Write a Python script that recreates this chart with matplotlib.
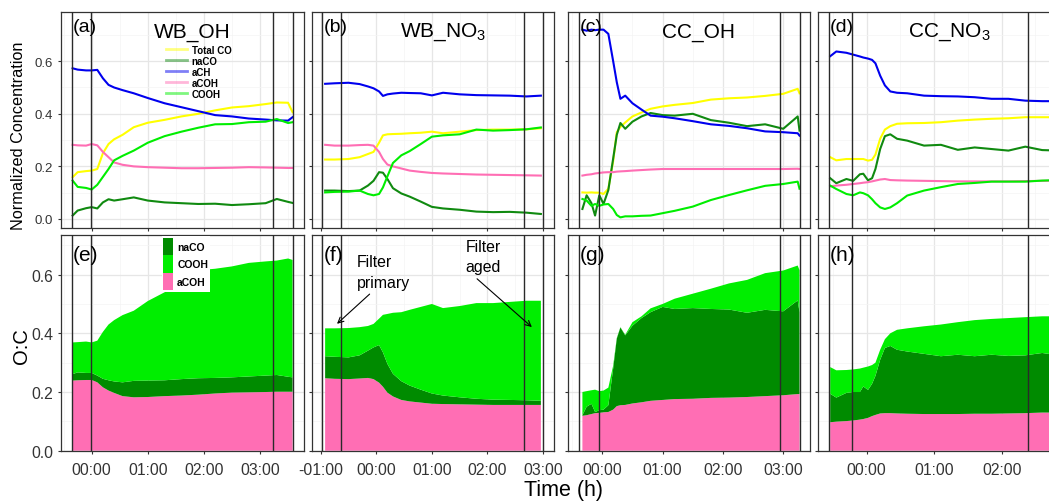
import matplotlib
matplotlib.use("Agg")
import matplotlib.pyplot as plt
from matplotlib.patches import Patch
from matplotlib.lines import Line2D
from matplotlib.ticker import MultipleLocator, FixedLocator

plt.rcParams['font.family'] = ['Liberation Sans', 'DejaVu Sans']
plt.rcParams['mathtext.fontset'] = 'custom'
plt.rcParams['mathtext.rm'] = 'Liberation Sans'
plt.rcParams['mathtext.it'] = 'Liberation Sans:italic'

# ------------------------------------------------------------------ data
series_names = ["Total CO", "naCO", "aCH", "aCOH", "COOH"]
oc_names = ["naCO", "COOH", "aCOH"]

# (a)/(e) WB_OH
t_wb_oh = [-0.34, -0.25, -0.1, 0.0, 0.1, 0.2, 0.3, 0.4, 0.55, 0.75, 1.0, 1.3, 1.6, 1.9, 2.2, 2.5, 2.8, 3.1, 3.3, 3.5, 3.58]
wb_oh_total_co = [0.159, 0.178, 0.182, 0.184, 0.19, 0.25, 0.285, 0.303, 0.32, 0.349, 0.366, 0.377, 0.39, 0.40, 0.413, 0.424, 0.429, 0.437, 0.443, 0.442, 0.406]
wb_oh_naco = [0.013, 0.032, 0.041, 0.045, 0.04, 0.063, 0.075, 0.07, 0.075, 0.082, 0.07, 0.063, 0.06, 0.057, 0.058, 0.053, 0.056, 0.06, 0.076, 0.065, 0.061]
wb_oh_ach = [0.573, 0.568, 0.565, 0.565, 0.567, 0.535, 0.51, 0.50, 0.49, 0.478, 0.46, 0.44, 0.425, 0.41, 0.395, 0.39, 0.382, 0.378, 0.375, 0.374, 0.387]
wb_oh_acoh = [0.282, 0.28, 0.279, 0.285, 0.28, 0.255, 0.235, 0.215, 0.206, 0.2, 0.197, 0.195, 0.193, 0.193, 0.194, 0.195, 0.197, 0.196, 0.195, 0.194, 0.194]
wb_oh_cooh = [0.146, 0.122, 0.118, 0.112, 0.13, 0.16, 0.19, 0.223, 0.24, 0.26, 0.29, 0.315, 0.332, 0.347, 0.36, 0.361, 0.368, 0.37, 0.38, 0.365, 0.368]
wb_oh_oc_acoh = [0.239, 0.24, 0.241, 0.241, 0.233, 0.216, 0.205, 0.197, 0.186, 0.182, 0.183, 0.186, 0.188, 0.191, 0.195, 0.198, 0.199, 0.2, 0.201, 0.201, 0.201]
wb_oh_oc_naco = [0.022, 0.027, 0.024, 0.024, 0.023, 0.029, 0.035, 0.039, 0.047, 0.056, 0.056, 0.054, 0.056, 0.056, 0.053, 0.052, 0.054, 0.056, 0.057, 0.051, 0.049]
wb_oh_oc_cooh = [0.108, 0.103, 0.107, 0.104, 0.119, 0.16, 0.19, 0.209, 0.229, 0.239, 0.271, 0.30, 0.324, 0.368, 0.372, 0.378, 0.387, 0.389, 0.39, 0.403, 0.40]

# (b)/(f) WB_NO3
t_wb_no3 = [-0.92, -0.75, -0.5, -0.3, -0.15, -0.05, 0.05, 0.12, 0.2, 0.3, 0.45, 0.6, 0.8, 1.0, 1.2, 1.5, 1.8, 2.1, 2.4, 2.7, 2.96]
wb_no3_total_co = [0.226, 0.226, 0.228, 0.235, 0.247, 0.255, 0.29, 0.318, 0.322, 0.323, 0.324, 0.326, 0.328, 0.332, 0.326, 0.332, 0.338, 0.34, 0.34, 0.341, 0.345]
wb_no3_naco = [0.108, 0.108, 0.106, 0.108, 0.127, 0.145, 0.178, 0.176, 0.152, 0.117, 0.097, 0.085, 0.066, 0.046, 0.04, 0.035, 0.028, 0.026, 0.027, 0.024, 0.019]
wb_no3_ach = [0.514, 0.516, 0.518, 0.513, 0.504, 0.497, 0.485, 0.468, 0.474, 0.477, 0.48, 0.479, 0.478, 0.47, 0.48, 0.474, 0.471, 0.47, 0.469, 0.466, 0.469]
wb_no3_acoh = [0.282, 0.279, 0.279, 0.281, 0.282, 0.279, 0.255, 0.228, 0.207, 0.2, 0.192, 0.184, 0.179, 0.175, 0.173, 0.171, 0.169, 0.168, 0.167, 0.166, 0.165]
wb_no3_cooh = [0.101, 0.103, 0.104, 0.108, 0.095, 0.09, 0.095, 0.12, 0.162, 0.213, 0.242, 0.258, 0.285, 0.313, 0.318, 0.322, 0.34, 0.336, 0.338, 0.341, 0.348]
wb_no3_oc_acoh = [0.247, 0.245, 0.244, 0.246, 0.248, 0.244, 0.232, 0.218, 0.198, 0.185, 0.173, 0.168, 0.164, 0.16, 0.159, 0.158, 0.157, 0.156, 0.156, 0.156, 0.156]
wb_no3_oc_naco = [0.075, 0.075, 0.074, 0.079, 0.093, 0.108, 0.128, 0.117, 0.098, 0.077, 0.064, 0.054, 0.044, 0.035, 0.029, 0.024, 0.02, 0.018, 0.017, 0.016, 0.014]
wb_no3_oc_cooh = [0.095, 0.097, 0.10, 0.096, 0.084, 0.08, 0.09, 0.128, 0.17, 0.208, 0.235, 0.258, 0.282, 0.305, 0.298, 0.311, 0.326, 0.329, 0.334, 0.339, 0.341]

# (c)/(g) CC_OH
t_cc_oh = [-0.33, -0.26, -0.18, -0.12, -0.05, 0.02, 0.1, 0.18, 0.24, 0.3, 0.38, 0.5, 0.65, 0.8, 1.0, 1.2, 1.5, 1.8, 2.1, 2.4, 2.7, 3.0, 3.24, 3.27]
cc_oh_total_co = [0.101, 0.1, 0.101, 0.1, 0.1, 0.095, 0.115, 0.22, 0.33, 0.35, 0.367, 0.39, 0.405, 0.419, 0.428, 0.434, 0.441, 0.454, 0.459, 0.462, 0.468, 0.476, 0.495, 0.478]
cc_oh_naco = [0.038, 0.09, 0.06, 0.013, 0.09, 0.057, 0.11, 0.23, 0.32, 0.365, 0.343, 0.37, 0.39, 0.403, 0.395, 0.393, 0.4, 0.376, 0.366, 0.353, 0.36, 0.343, 0.39, 0.336]
cc_oh_ach = [0.72, 0.716, 0.72, 0.718, 0.72, 0.72, 0.704, 0.6, 0.52, 0.457, 0.469, 0.44, 0.416, 0.393, 0.389, 0.383, 0.372, 0.36, 0.354, 0.345, 0.333, 0.33, 0.326, 0.317]
cc_oh_acoh = [0.165, 0.168, 0.17, 0.173, 0.175, 0.177, 0.178, 0.178, 0.18, 0.181, 0.182, 0.184, 0.186, 0.188, 0.19, 0.19, 0.19, 0.19, 0.19, 0.19, 0.19, 0.19, 0.191, 0.19]
cc_oh_cooh = [0.076, 0.07, 0.05, 0.057, 0.05, 0.055, 0.057, 0.038, 0.015, 0.006, 0.01, 0.01, 0.012, 0.013, 0.022, 0.031, 0.047, 0.072, 0.091, 0.109, 0.126, 0.133, 0.142, 0.115]
cc_oh_oc_acoh = [0.119, 0.121, 0.125, 0.128, 0.129, 0.131, 0.132, 0.14, 0.152, 0.155, 0.156, 0.161, 0.165, 0.17, 0.173, 0.176, 0.177, 0.18, 0.181, 0.183, 0.186, 0.189, 0.193, 0.193]
cc_oh_oc_naco = [0.002, 0.029, 0.035, 0.004, 0.009, 0.009, 0.023, 0.14, 0.23, 0.265, 0.237, 0.265, 0.287, 0.302, 0.317, 0.307, 0.309, 0.303, 0.30, 0.287, 0.294, 0.286, 0.319, 0.279]
cc_oh_oc_cooh = [0.079, 0.053, 0.046, 0.076, 0.065, 0.065, 0.06, 0.01, 0.002, 0.001, 0.002, 0.012, 0.006, 0.013, 0.01, 0.035, 0.049, 0.069, 0.089, 0.112, 0.125, 0.139, 0.119, 0.143]

# (d)/(h) CC_NO3
t_cc_no3 = [-0.54, -0.45, -0.3, -0.2, -0.1, -0.05, 0.02, 0.08, 0.13, 0.2, 0.27, 0.35, 0.45, 0.6, 0.85, 1.1, 1.35, 1.6, 1.85, 2.1, 2.35, 2.6, 2.85]
cc_no3_total_co = [0.235, 0.223, 0.228, 0.228, 0.228, 0.228, 0.222, 0.225, 0.245, 0.305, 0.34, 0.353, 0.362, 0.364, 0.365, 0.368, 0.374, 0.378, 0.381, 0.383, 0.387, 0.387, 0.387]
cc_no3_naco = [0.155, 0.136, 0.152, 0.145, 0.17, 0.172, 0.147, 0.155, 0.19, 0.266, 0.315, 0.322, 0.305, 0.298, 0.279, 0.282, 0.263, 0.272, 0.266, 0.26, 0.275, 0.262, 0.26]
cc_no3_ach = [0.619, 0.637, 0.632, 0.625, 0.618, 0.614, 0.61, 0.605, 0.592, 0.545, 0.508, 0.485, 0.48, 0.478, 0.469, 0.467, 0.466, 0.463, 0.457, 0.457, 0.45, 0.448, 0.448]
cc_no3_acoh = [0.124, 0.127, 0.13, 0.133, 0.136, 0.138, 0.14, 0.143, 0.146, 0.15, 0.152, 0.148, 0.147, 0.146, 0.145, 0.144, 0.143, 0.143, 0.143, 0.143, 0.144, 0.145, 0.146]
cc_no3_cooh = [0.127, 0.114, 0.095, 0.09, 0.101, 0.098, 0.09, 0.075, 0.06, 0.044, 0.038, 0.044, 0.06, 0.089, 0.108, 0.121, 0.133, 0.137, 0.142, 0.142, 0.142, 0.146, 0.148]
cc_no3_oc_acoh = [0.097, 0.099, 0.101, 0.103, 0.106, 0.108, 0.112, 0.118, 0.122, 0.127, 0.128, 0.128, 0.127, 0.126, 0.125, 0.125, 0.125, 0.126, 0.126, 0.127, 0.128, 0.13, 0.13]
cc_no3_oc_naco = [0.097, 0.082, 0.096, 0.097, 0.094, 0.111, 0.095, 0.11, 0.133, 0.183, 0.222, 0.229, 0.217, 0.212, 0.205, 0.197, 0.202, 0.196, 0.201, 0.196, 0.197, 0.203, 0.195]
cc_no3_oc_cooh = [0.091, 0.093, 0.078, 0.077, 0.08, 0.064, 0.08, 0.064, 0.045, 0.034, 0.03, 0.043, 0.068, 0.079, 0.094, 0.108, 0.111, 0.123, 0.122, 0.129, 0.13, 0.125, 0.133]

panel_titles = ["WB_OH", "WB_NO$_\\mathregular{3}$", "CC_OH", "CC_NO$_\\mathregular{3}$"]
top_letters = ["(a)", "(b)", "(c)", "(d)"]
bottom_letters = ["(e)", "(f)", "(g)", "(h)"]

tick_hours = [[0, 1, 2, 3], [-1, 0, 1, 2, 3], [0, 1, 2, 3], [0, 1, 2]]
tick_labels = [["00:00", "01:00", "02:00", "03:00"],
               ["-01:00", "00:00", "01:00", "02:00", "03:00"],
               ["00:00", "01:00", "02:00", "03:00"],
               ["00:00", "01:00", "02:00"]]
x_limits = [(-0.547, 3.784), (-1.156, 3.196), (-0.569, 3.444), (-0.721, 2.879)]
filter_lines = [[-0.357, -0.02, 3.24, 3.585],
                [-0.97, -0.64, 2.66, 3.0],
                [-0.38, -0.05, 2.94, 3.27],
                [-0.554, -0.218, 2.394]]
y_ticks = [0.0, 0.2, 0.4, 0.6]

# ------------------------------------------------------------------ styling
line_colors = ["#FFFF00", "#108A10", "#0000EE", "#FF6EB4", "#00EE00"]
area_colors = {"naCO": "#008B00", "COOH": "#00EE00", "aCOH": "#FF6EB4"}
frame_col = "#333333"

top_data = [
    (t_wb_oh, [wb_oh_total_co, wb_oh_naco, wb_oh_ach, wb_oh_acoh, wb_oh_cooh]),
    (t_wb_no3, [wb_no3_total_co, wb_no3_naco, wb_no3_ach, wb_no3_acoh, wb_no3_cooh]),
    (t_cc_oh, [cc_oh_total_co, cc_oh_naco, cc_oh_ach, cc_oh_acoh, cc_oh_cooh]),
    (t_cc_no3, [cc_no3_total_co, cc_no3_naco, cc_no3_ach, cc_no3_acoh, cc_no3_cooh]),
]
bottom_data = [
    (t_wb_oh, wb_oh_oc_acoh, wb_oh_oc_naco, wb_oh_oc_cooh),
    (t_wb_no3, wb_no3_oc_acoh, wb_no3_oc_naco, wb_no3_oc_cooh),
    (t_cc_oh, cc_oh_oc_acoh, cc_oh_oc_naco, cc_oh_oc_cooh),
    (t_cc_no3, cc_no3_oc_acoh, cc_no3_oc_naco, cc_no3_oc_cooh),
]

W, H = 1049, 502
fig = plt.figure(figsize=(W / 100, H / 100), dpi=100)


def rect(x0, x1, y0, y1):
    return [x0 / W, 1 - y1 / H, (x1 - x0) / W, (y1 - y0) / H]


col_px = [(61, 304), (312, 554), (568, 810), (818, 1061)]
top_px = (13.3, 229.3)
bot_px = (236, 452.3)


def style_axes(ax, i, show_x, show_y, ylim, ysize):
    ax.set_xlim(*x_limits[i])
    ax.set_ylim(*ylim)
    ax.xaxis.set_major_locator(FixedLocator(tick_hours[i]))
    ax.xaxis.set_minor_locator(MultipleLocator(0.5))
    ax.yaxis.set_major_locator(FixedLocator(y_ticks))
    ax.yaxis.set_minor_locator(MultipleLocator(0.1))
    ax.set_axisbelow(True)
    ax.grid(which="major", color="#E6E6E6", lw=0.9)
    ax.grid(which="minor", color="#F4F4F4", lw=0.5)
    ax.tick_params(which="minor", length=0)
    ax.tick_params(which="major", direction="out", length=2.5, width=0.8,
                   color=frame_col, labelcolor="#333333")
    if show_x:
        ax.set_xticklabels(tick_labels[i], fontsize=11.3)
        ax.tick_params(axis="x", pad=5)
    else:
        ax.set_xticklabels([])
    if show_y:
        ax.set_yticklabels([f"{v:.1f}" for v in y_ticks], fontsize=ysize)
        ax.tick_params(axis="y", pad=3)
    else:
        ax.set_yticklabels([])
    for sp in ax.spines.values():
        sp.set_color(frame_col)
        sp.set_linewidth(0.9)
    for xv in filter_lines[i]:
        ax.axvline(xv, color="#2a2a2a", lw=1.0, zorder=5)


top_axes, bot_axes = [], []
for i in range(4):
    x0, x1 = col_px[i]
    ax = fig.add_axes(rect(x0, x1, *top_px))
    t, ys = top_data[i]
    for name, y, c in zip(series_names, ys, line_colors):
        ax.plot(t, y, color=c, lw=1.5, label=name, zorder=3)
    style_axes(ax, i, False, i == 0, (-0.0355, 0.786), 9.5)
    ax.text(0.048, 0.935, top_letters[i], transform=ax.transAxes,
            fontsize=14, ha="left", va="center", zorder=6)
    ax.text(0.54, 0.912, panel_titles[i], transform=ax.transAxes,
            fontsize=15, ha="center", va="center", zorder=6)
    top_axes.append(ax)

    axb = fig.add_axes(rect(x0, x1, *bot_px))
    tb, a_acoh, a_naco, a_cooh = bottom_data[i]
    axb.stackplot(tb, a_acoh, a_naco, a_cooh,
                  colors=[area_colors["aCOH"], area_colors["naCO"], area_colors["COOH"]],
                  linewidth=0, zorder=2)
    style_axes(axb, i, True, i == 0, (-0.002, 0.735), 11.3)
    axb.text(0.048, 0.912, bottom_letters[i], transform=axb.transAxes,
             fontsize=15, ha="left", va="center", zorder=6)
    bot_axes.append(axb)

# legend (a)
handles = [Line2D([], [], color=c, lw=2, alpha=0.5) for c in line_colors]
top_axes[0].legend(handles, series_names, loc="upper left",
                   bbox_to_anchor=(0.432, 0.85), frameon=False,
                   prop={"weight": "bold", "size": 7}, handlelength=2.2,
                   handletextpad=0.45, labelspacing=0.1, borderpad=0,
                   borderaxespad=0)

# legend (e)
patches = [Patch(facecolor=area_colors[n], edgecolor="none") for n in oc_names]
leg = bot_axes[0].legend(patches, oc_names, loc="upper left",
                         bbox_to_anchor=(0.414, 0.995), frameon=True,
                         prop={"weight": "bold", "size": 7.5}, handlelength=0.9,
                         handleheight=2.2, handletextpad=0.45, labelspacing=0.0,
                         borderpad=0.15, borderaxespad=0, fancybox=False)
leg.get_frame().set_facecolor("white")
leg.get_frame().set_edgecolor("none")
leg.get_frame().set_alpha(1)
leg.set_zorder(7)

# annotations in (f)
axf = bot_axes[1]
axf.text(-0.347, 0.609, "Filter\nprimary", fontsize=11.4, ha="left", va="center",
         multialignment="left", linespacing=1.45, zorder=6)
axf.annotate("", xy=(-0.743, 0.426), xytext=(-0.083, 0.540),
             arrowprops=dict(arrowstyle="->", color="black", lw=0.8), zorder=6)
axf.text(1.608, 0.661, "Filter\naged", fontsize=11.4, ha="left", va="center",
         multialignment="left", linespacing=1.45, zorder=6)
axf.annotate("", xy=(2.835, 0.415), xytext=(1.775, 0.592),
             arrowprops=dict(arrowstyle="->", color="black", lw=0.8), zorder=6)

# axis labels
fig.text(19 / W, 1 - 136 / H, "Normalized Concentration", rotation=90,
         fontsize=11.7, ha="center", va="center")
fig.text(21.5 / W, 1 - 346 / H, "O:C", rotation=90, fontsize=14.5,
         ha="center", va="center")
fig.text(564 / W, 1 - 491 / H, "Time (h)", fontsize=15.5, ha="center", va="center")

fig.savefig("out.png", dpi=100)
